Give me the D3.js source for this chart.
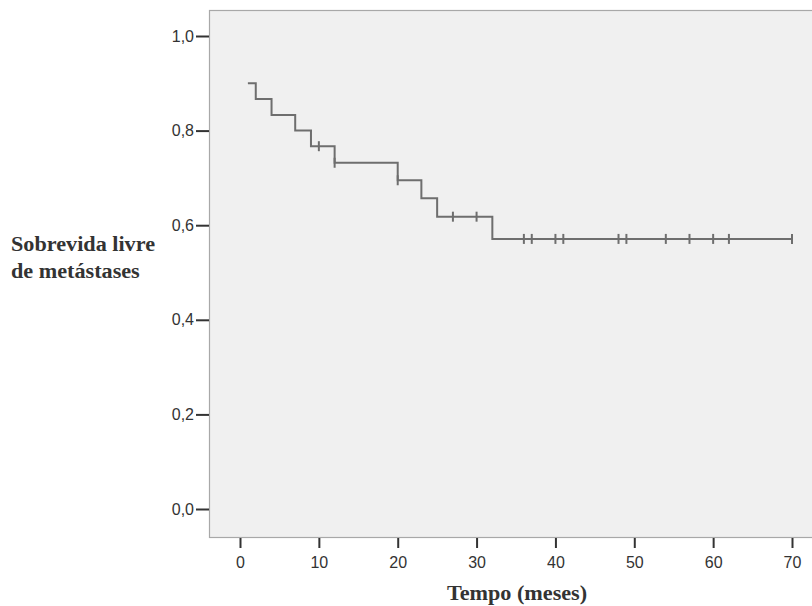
<!DOCTYPE html>
<html>
<head>
<meta charset="utf-8">
<script src="https://cdn.jsdelivr.net/npm/d3@7"></script>
<style>
  body { margin: 0; background: #fff; }
</style>
</head>
<body>
<svg width="812" height="606"></svg>
<script>
// step times (months) and survival after each drop
var eventTimes = [1, 2, 4, 7, 9, 12, 20, 23, 25, 32]
var survival = [0.9, 0.867, 0.833, 0.8, 0.767, 0.732, 0.695, 0.657, 0.618, 0.571]
// censored observations
var censorTimes = [10, 12, 20, 27, 30, 36, 37, 40, 41, 48, 49, 54, 57, 60, 62, 70]
var xTicks = [0, 10, 20, 30, 40, 50, 60, 70]
var yTicks = [0, 0.2, 0.4, 0.6, 0.8, 1.0]

var svg = d3.select("svg")
var plotLeft = 209, plotTop = 10, plotRight = 812, plotBottom = 537

var xScale = d3.scaleLinear().domain([0, 70]).range([240, 792])
var yScale = d3.scaleLinear().domain([0, 1]).range([509, 36])

// plot background
svg.append('rect')
    .attr('x', plotLeft + 0.5).attr('y', plotTop + 0.5)
    .attr('width', plotRight - plotLeft + 5).attr('height', plotBottom - plotTop)
    .style('fill', '#f0f0f0')
    .style('stroke', '#a8a8a8')
    .style('stroke-width', 1.2)

var fmt = d => d.toFixed(1).replace('.', ',')

// y axis
var yAxis = svg.append('g')
    .attr('transform', 'translate(' + plotLeft + ',0)')
    .call(d3.axisLeft(yScale).tickValues(yTicks).tickFormat(fmt).tickSize(13).tickPadding(2))
yAxis.select('.domain').remove()

// x axis
var xAxis = svg.append('g')
    .attr('transform', 'translate(0,' + (plotBottom + 1) + ')')
    .call(d3.axisBottom(xScale).tickValues(xTicks).tickSize(10).tickPadding(9))
xAxis.select('.domain').remove()

svg.selectAll('.tick line').style('stroke', '#333').style('stroke-width', 2)
svg.selectAll('.tick text')
    .style('font-family', '"Liberation Sans", Arial, sans-serif')
    .style('font-size', '16px')
    .style('fill', '#333')

// step line
var pts = []
eventTimes.forEach((t, i) => {
    if (i > 0) pts.push([t, survival[i - 1]])
    pts.push([t, survival[i]])
})
pts.push([d3.max(censorTimes), survival[survival.length - 1]])

function survAt(t) {
    var s = survival[0]
    eventTimes.forEach((e, i) => { if (e <= t) s = survival[i] })
    return s
}

var line = d3.line()
    .x(d => xScale(d[0]))
    .y(d => yScale(d[1]))

svg.append('path')
    .datum(pts)
    .attr('d', line)
    .style('fill', 'none')
    .style('stroke', '#6e6e6e')
    .style('stroke-width', 2)

svg.append('g').selectAll('line')
    .data(censorTimes)
    .enter()
    .append('line')
    .attr('x1', d => xScale(d)).attr('x2', d => xScale(d))
    .attr('y1', d => yScale(survAt(d)) - 5)
    .attr('y2', d => yScale(survAt(d)) + 5)
    .style('stroke', '#6e6e6e')
    .style('stroke-width', 2)

// axis titles (source image is slightly stretched horizontally)
function title(x, y, txt, anchor) {
    svg.append('text')
        .attr('transform', 'translate(' + x + ',' + y + ') scale(1.11,1)')
        .attr('text-anchor', anchor)
        .style('font-family', '"Liberation Serif", "Times New Roman", serif')
        .style('font-weight', 'bold')
        .style('font-size', '20px')
        .style('fill', '#333')
        .text(txt)
}
title(517, 600, 'Tempo (meses)', 'middle')
title(11, 251, 'Sobrevida livre', 'start')
title(11, 278, 'de metástases', 'start')
</script>
</body>
</html>
